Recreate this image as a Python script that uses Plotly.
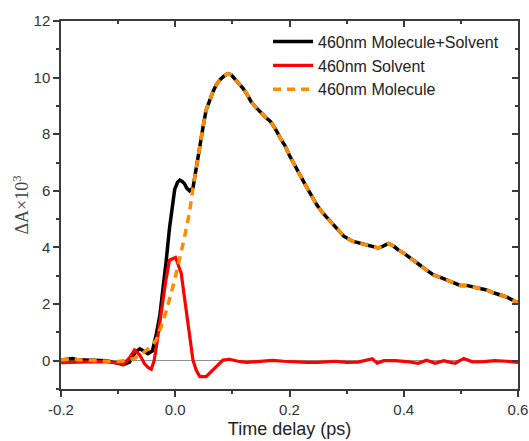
import plotly.graph_objects as go

# Molecule+Solvent (black)
ms_x = [-0.2, -0.19, -0.18, -0.17, -0.16, -0.15, -0.14, -0.13, -0.12, -0.11, -0.1, -0.09, -0.08, -0.07,
        -0.062, -0.055, -0.048, -0.04, -0.033, -0.027, -0.022, -0.016, -0.01, -0.005, -0.001, 0.004, 0.008,
        0.012, 0.016, 0.02, 0.025, 0.031, 0.037, 0.043, 0.049, 0.054, 0.06, 0.066, 0.072, 0.078, 0.085,
        0.092, 0.098, 0.104, 0.112, 0.119, 0.126, 0.133, 0.142, 0.151, 0.159, 0.167, 0.175, 0.183, 0.192,
        0.2, 0.209, 0.218, 0.228, 0.238, 0.248, 0.259, 0.27, 0.282, 0.295, 0.31, 0.322, 0.335, 0.345,
        0.355, 0.364, 0.373, 0.382, 0.39, 0.4, 0.408, 0.418, 0.428, 0.44, 0.452, 0.463, 0.475, 0.487,
        0.499, 0.51, 0.522, 0.534, 0.545, 0.557, 0.569, 0.58, 0.59, 0.6]
ms_y = [0.02, 0.05, 0.08, 0.03, 0.02, 0.04, 0.03, 0.02, 0.0, -0.05, -0.1, -0.13, -0.05, 0.3,
        0.42, 0.35, 0.25, 0.35, 0.95, 1.6, 2.4, 3.5, 4.7, 5.5, 6.05, 6.3, 6.38,
        6.33, 6.26, 6.1, 6.0, 6.1, 6.9, 7.7, 8.3, 8.85, 9.2, 9.5, 9.75, 9.92, 10.05,
        10.14, 10.1, 9.97, 9.8, 9.61, 9.4, 9.14, 8.93, 8.73, 8.58, 8.44, 8.2, 7.9, 7.6,
        7.25, 6.9, 6.6, 6.2, 5.85, 5.5, 5.2, 4.95, 4.65, 4.4, 4.22, 4.15, 4.08, 4.04,
        3.98, 4.05, 4.14, 4.05, 3.92, 3.8, 3.67, 3.52, 3.38, 3.2, 3.03, 2.95, 2.85, 2.77,
        2.66, 2.66, 2.61, 2.56, 2.5, 2.4, 2.32, 2.25, 2.15, 2.05]

# Molecule (orange dashed): early part read separately, identical to black afterwards
mol_early_x = [-0.2, -0.19, -0.18, -0.17, -0.16, -0.15, -0.14, -0.13, -0.12, -0.11, -0.1, -0.09, -0.08,
               -0.07, -0.06, -0.05, -0.04, -0.033, -0.027, -0.022, -0.016, -0.01, -0.005, 0.0, 0.005,
               0.01, 0.015, 0.02, 0.025]
mol_early_y = [0.02, 0.05, 0.08, 0.03, 0.02, 0.04, 0.03, 0.02, 0.0, -0.02, -0.03, 0.0, 0.03,
               0.1, 0.22, 0.38, 0.55, 0.75, 1.05, 1.35, 1.75, 2.15, 2.55, 2.95, 3.35,
               3.8, 4.25, 4.75, 5.25]
mol_x = mol_early_x + ms_x[31:]
mol_y = mol_early_y + ms_y[31:]

# Solvent (red)
sol_x = [-0.2, -0.18, -0.16, -0.14, -0.12, -0.1, -0.092, -0.08, -0.0714, -0.062, -0.054, -0.047, -0.042,
         -0.037, -0.033, -0.027, -0.022, -0.016, -0.01, -0.004, 0.0005, 0.005, 0.0105, 0.015, 0.019, 0.025,
         0.031, 0.037, 0.043, 0.054, 0.063, 0.072, 0.0835, 0.095, 0.11, 0.125, 0.14, 0.155, 0.17, 0.19,
         0.21, 0.23, 0.25, 0.265, 0.28, 0.3, 0.32, 0.335, 0.345, 0.3535, 0.365, 0.385, 0.405, 0.425, 0.44,
         0.455, 0.47, 0.48, 0.49, 0.505, 0.52, 0.54, 0.56, 0.58, 0.6]
sol_y = [-0.07, -0.05, -0.03, -0.03, -0.04, -0.08, -0.15, 0.1, 0.38, 0.2, -0.1, -0.25, -0.3,
         0.0, 0.5, 1.3, 2.14, 2.9, 3.55, 3.62, 3.65, 3.4, 3.08, 2.4, 1.79, 0.9,
         0.02, -0.35, -0.56, -0.56, -0.38, -0.21, 0.02, 0.05, -0.02, -0.06, -0.04, 0.0, 0.01, -0.02,
         -0.05, -0.06, -0.06, -0.03, -0.02, -0.06, -0.05, 0.02, 0.07, -0.09, 0.0, 0.0, -0.03, -0.09, 0.02,
         -0.09, 0.0, -0.05, -0.09, 0.08, -0.04, -0.03, 0.0, -0.02, -0.06]

names = ["460nm Molecule+Solvent", "460nm Solvent", "460nm Molecule"]
x_range = [-0.2, 0.6]
y_range = [-1, 12]
x_ticks = [-0.2, 0.0, 0.2, 0.4, 0.6]
x_labels = ["-0.2", "0.0", "0.2", "0.4", "0.6"]
y_ticks = [0, 2, 4, 6, 8, 10, 12]

AX = "#3a3a3a"
fig = go.Figure()
fig.add_trace(go.Scatter(x=ms_x, y=ms_y, mode="lines", name=names[0],
                         line=dict(color="#000000", width=3.5)))
fig.add_trace(go.Scatter(x=sol_x, y=sol_y, mode="lines", name=names[1],
                         line=dict(color="#ff0000", width=3.2)))
fig.add_trace(go.Scatter(x=mol_x, y=mol_y, mode="lines", name=names[2],
                         line=dict(color="#ff8c00", width=3.5, dash="8px,6px")))
# helper trace for mirrored inside-tick axes
fig.add_trace(go.Scatter(x=[], y=[], xaxis="x2", yaxis="y2", showlegend=False, hoverinfo="skip"))

tickfont = dict(family="Liberation Sans", size=15, color="#333333")
fig.update_layout(
    width=529, height=441,
    margin=dict(l=61, r=11, t=21, b=52, autoexpand=False),
    paper_bgcolor="white", plot_bgcolor="white",
    showlegend=True,
    legend=dict(x=0.453, y=0.99, xanchor="left", yanchor="top",
                bgcolor="rgba(0,0,0,0)", font=dict(family="Liberation Sans", size=16, color="#222222"),
                tracegroupgap=0, itemwidth=40),
    xaxis=dict(range=x_range, tickvals=x_ticks, ticktext=x_labels, ticks="outside", ticklen=6,
               tickwidth=1.5, tickcolor=AX, showline=True, linecolor=AX, linewidth=1.5,
               showgrid=False, zeroline=False, tickfont=tickfont, automargin=False,
               minor=dict(dtick=0.1, tick0=-0.2, ticks="outside", ticklen=3, tickwidth=1.5, tickcolor=AX),
               title=dict(text="Time delay (ps)", font=dict(family="Liberation Sans", size=18, color="#222222"),
                          standoff=6)),
    yaxis=dict(range=y_range, tickvals=y_ticks, ticks="outside", ticklen=6,
               tickwidth=1.5, tickcolor=AX, showline=True, linecolor=AX, linewidth=1.5,
               showgrid=False, zeroline=True, zerolinecolor="#909090", zerolinewidth=1.3,
               tickfont=tickfont, automargin=False,
               minor=dict(dtick=1, tick0=0, ticks="outside", ticklen=3, tickwidth=1.5, tickcolor=AX),
               title=dict(text="ΔA×10<sup>3</sup>", font=dict(family="Liberation Serif", size=18, color="#444444"),
                          standoff=0)),
    xaxis2=dict(range=x_range, overlaying="x", side="top", anchor="y2", tickvals=x_ticks,
                showticklabels=False, ticks="inside", ticklen=6, tickwidth=1.5, tickcolor=AX,
                showline=True, linecolor=AX, linewidth=1.5, showgrid=False, zeroline=False, automargin=False,
                minor=dict(dtick=0.1, tick0=-0.2, ticks="inside", ticklen=3, tickwidth=1.5, tickcolor=AX)),
    yaxis2=dict(range=y_range, overlaying="y", side="right", anchor="x2", tickvals=y_ticks,
                showticklabels=False, ticks="inside", ticklen=6, tickwidth=1.5, tickcolor=AX,
                showline=True, linecolor=AX, linewidth=1.5, showgrid=False, zeroline=False, automargin=False,
                minor=dict(dtick=1, tick0=0, ticks="inside", ticklen=3, tickwidth=1.5, tickcolor=AX)),
)
fig.write_html("out.html")
